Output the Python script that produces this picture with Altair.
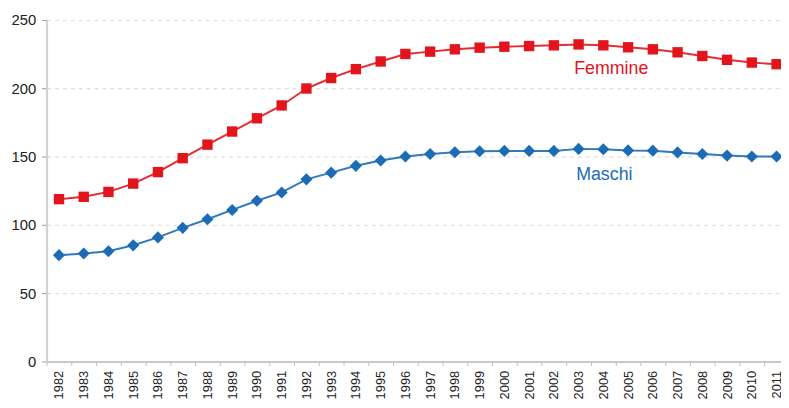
import altair as alt
import pandas as pd

years = [str(y) for y in range(1982, 2012)]
femmine = [118.8, 120.5, 124.1, 130.2, 138.6, 148.8, 158.7, 168.3, 178.0, 187.4,
           199.8, 207.5, 214.0, 219.6, 225.1, 226.8, 228.5, 229.7, 230.4, 230.9,
           231.4, 232.1, 231.4, 230.0, 228.5, 226.3, 223.6, 220.8, 218.8, 217.6]
maschi = [77.8, 79.0, 80.7, 85.0, 90.8, 97.8, 104.1, 110.9, 117.6, 123.7,
          133.3, 138.2, 143.2, 147.1, 150.0, 151.9, 153.1, 153.9, 154.1, 154.1,
          154.1, 155.6, 155.3, 154.5, 154.3, 153.0, 151.9, 150.7, 150.0, 150.0]
series_names = ["Femmine", "Maschi"]
colors = ["#e3151c", "#1b6cb5"]
shapes = ["square", "diamond"]
sizes = [110, 150]

label_text = ["Femmine", "Maschi"]
label_year = ["2004", "2004"]
label_value = [210.1, 132.6]

df = pd.DataFrame({
    "anno": years * 2,
    "valore": femmine + maschi,
    "serie": ["Femmine"] * len(years) + ["Maschi"] * len(years),
})
labels = pd.DataFrame({"testo": label_text, "anno": label_year,
                       "valore": label_value, "serie": series_names})

x = alt.X("anno:N", sort=years, title=None,
          scale=alt.Scale(type="band", range=[0, 750], paddingInner=0, paddingOuter=0),
          axis=alt.Axis(labelAngle=270, labelFontSize=13, labelFont="Liberation Sans",
                        labelColor="#222", tickBand="extent", tickColor="#bbbbbb",
                        tickSize=4, domainColor="#c8c8c8", domainWidth=2,
                        labelPadding=5, grid=False, labelBaseline="middle", labelAlign="right"))
y = alt.Y("valore:Q", title=None,
          scale=alt.Scale(domain=[0, 250], nice=False),
          axis=alt.Axis(values=[0, 50, 100, 150, 200, 250], labelFontSize=15,
                        labelFont="Liberation Sans", labelColor="#222",
                        tickColor="#999", tickSize=5, domainColor="#d0d0d0", domainWidth=2,
                        gridColor="#d8d8d8", gridDash=[4, 4], gridWidth=1, labelPadding=6))

color = alt.Color("serie:N", scale=alt.Scale(domain=series_names, range=colors), legend=None)

lines = alt.Chart(df).mark_line(strokeWidth=2, opacity=0.9).encode(x=x, y=y, color=color)
points = alt.Chart(df).mark_point(filled=True, opacity=1).encode(
    x=x, y=y, color=color,
    shape=alt.Shape("serie:N", scale=alt.Scale(domain=series_names, range=shapes), legend=None),
    size=alt.Size("serie:N", scale=alt.Scale(domain=series_names, range=sizes), legend=None))

txt_f = alt.Chart(labels[labels.serie == "Femmine"]).mark_text(
    fontSize=18, font="Liberation Sans", align="center", dx=8, baseline="alphabetic").encode(
    x=alt.X("anno:N", sort=years), y=alt.Y("valore:Q"), text="testo:N", color=color)
txt_m = alt.Chart(labels[labels.serie == "Maschi"]).mark_text(
    fontSize=18, font="Liberation Sans", align="center", dx=1, baseline="alphabetic").encode(
    x=alt.X("anno:N", sort=years), y=alt.Y("valore:Q"), text="testo:N", color=color)

chart = alt.layer(lines, points, txt_f, txt_m).properties(
    width=742, height=345,
    autosize=alt.AutoSizeParams(type="none"),
    padding={"left": 39, "top": 10, "right": 0, "bottom": 45},
).configure_view(stroke=None)

chart.save("out.html", embed_options={"renderer": "svg", "actions": False})
